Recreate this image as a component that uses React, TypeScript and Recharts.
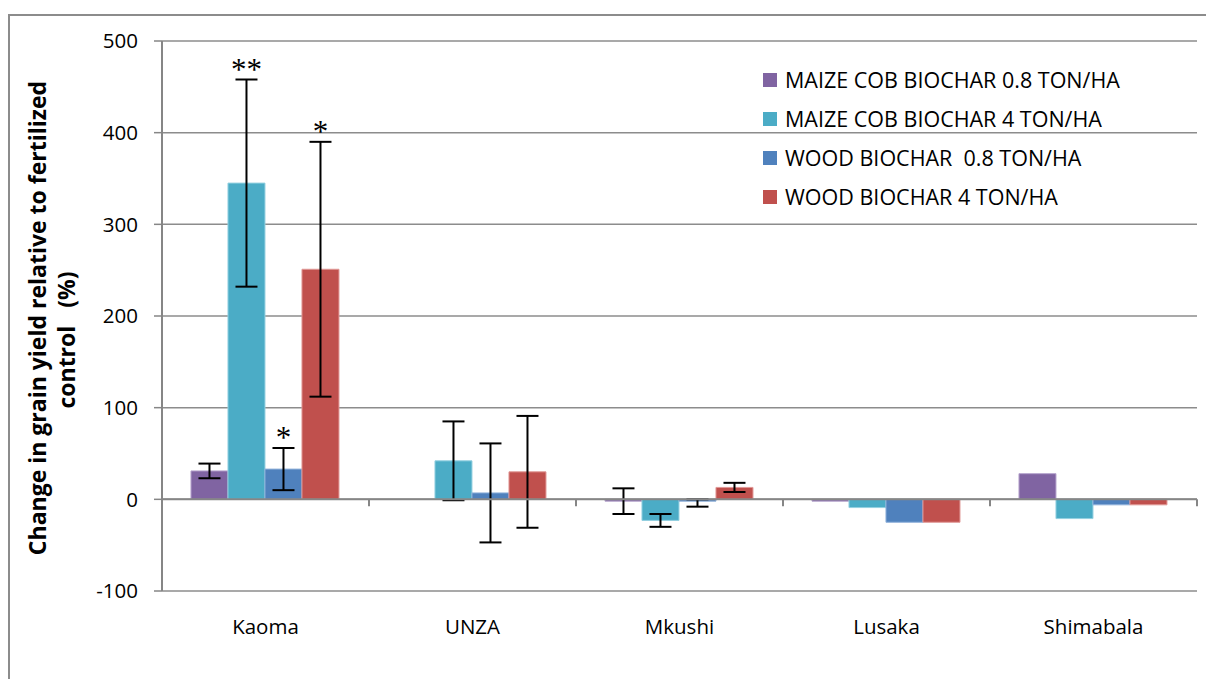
import React from 'react';
import { BarChart, Bar, XAxis, YAxis, CartesianGrid, ErrorBar, ReferenceLine, Legend, LabelList } from 'recharts';

const categories = ['Kaoma', 'UNZA', 'Mkushi', 'Lusaka', 'Shimabala'];
const maizeCob08 = [31, 0, -2, -2, 28];
const maizeCob08Err = [8, null, 14, null, null];
const maizeCob4 = [345, 42, -23, -9, -21];
const maizeCob4Err = [113, 43, 7, null, null];
const wood08 = [33, 7, -2, -25, -6];
const wood08Err: any[] = [23, 54, [6, 2], null, null];
const wood4 = [251, 30, 13, -25, -6];
const wood4Err = [139, 61, 5, null, null];
const maizeCob4Sig = ['**', '', '', '', ''];
const wood08Sig = ['*', '', '', '', ''];
const wood4Sig = ['*', '', '', '', ''];
const yTicks = [-100, 0, 100, 200, 300, 400, 500];

const seriesNames = ['MAIZE COB BIOCHAR 0.8 TON/HA', 'MAIZE COB BIOCHAR 4 TON/HA', 'WOOD BIOCHAR  0.8 TON/HA', 'WOOD BIOCHAR 4 TON/HA'];
const seriesColors = ['#8064A2', '#4BACC6', '#4F81BD', '#C0504D'];
const seriesStrokes = ['#b5a3cc', '#93d0e0', '#8fb0da', '#e09896'];

const data = categories.map((c, i) => ({
  name: c,
  s0: maizeCob08[i], e0: maizeCob08Err[i],
  s1: maizeCob4[i], e1: maizeCob4Err[i], g1: maizeCob4Sig[i],
  s2: wood08[i], e2: wood08Err[i], g2: wood08Sig[i],
  s3: wood4[i], e3: wood4Err[i], g3: wood4Sig[i],
}));

const FONT = '"Open Sans", Lato, sans-serif';

const makeSigLabel = (errKey: string, valKey: string) => (props: any) => {
  const { x, y, width, height, value, index } = props;
  if (!value) return null;
  const row: any = data[index];
  const v = row[valKey];
  const eRaw = row[errKey] || 0;
  const e = Array.isArray(eRaw) ? eRaw[1] : eRaw;
  const pxPerUnit = v ? Math.abs(height) / Math.abs(v) : 0;
  const top = Math.min(y, y + height) - e * pxPerUnit;
  return (
    <text x={x + width / 2} y={top} textAnchor="middle" fontFamily='"Liberation Serif", serif' fontSize={31} fill="#000">
      {value}
    </text>
  );
};

const ZeroLine = (p: any) => {
  const { x1, y1, x2, y2 } = p;
  const n = categories.length;
  const step = (x2 - x1) / n;
  return (
    <g>
      <line x1={x1} y1={y1} x2={x2} y2={y2} stroke="#868686" strokeWidth={2} />
      {categories.map((_, i) => (
        <line key={i} x1={x1 + step * (i + 1)} y1={y1} x2={x1 + step * (i + 1)} y2={y1 + 7} stroke="#868686" strokeWidth={2} />
      ))}
    </g>
  );
};

const LegendContent = () => (
  <div style={{ fontFamily: FONT, fontSize: 21.5, color: '#000' }}>
    {seriesNames.map((n, i) => (
      <div key={i} style={{ display: 'flex', alignItems: 'center', height: 39, whiteSpace: 'pre' }}>
        <span style={{ display: 'inline-block', width: 14, height: 14, background: seriesColors[i], marginRight: 8 }} />
        <span>{n}</span>
      </div>
    ))}
  </div>
);

const YTitle = () => (
  <g>
    <text transform="translate(46,318) rotate(-90)" textAnchor="middle" fontFamily={FONT} fontWeight="bold" fontSize={23} fill="#000">
      Change in grain yield relative to fertilized
    </text>
    <text transform="translate(75,340) rotate(-90)" textAnchor="middle" fontFamily={FONT} fontWeight="bold" fontSize={23} fill="#000" xmlSpace="preserve" style={{ whiteSpace: 'pre' }}>
      {'control   (%)'}
    </text>
  </g>
);

export default function App() {
  return (
    <div style={{ position: 'absolute', left: 0, top: 0, width: 1206, height: 679, background: '#fff', overflow: 'hidden' }}>
      <div style={{ position: 'absolute', left: 8, top: 14, width: 1300, height: 2, background: '#8c8c8c' }} />
      <div style={{ position: 'absolute', left: 8, top: 14, width: 2, height: 700, background: '#8c8c8c' }} />
      <div style={{ position: 'absolute', left: 0, top: 0 }}>
        <BarChart
          width={1206}
          height={679}
          data={data}
          margin={{ top: 41, right: 9, left: 0, bottom: 0 }}
          barCategoryGap="14%"
          barGap={0}
        >
          <CartesianGrid vertical={false} stroke="#8c8c8c" strokeWidth={1.5} />
          <XAxis
            dataKey="name"
            height={88}
            axisLine={false}
            tickLine={false}
            tickSize={0}
            tickMargin={28}
            tick={{ fontFamily: FONT, fontSize: 20.5, fill: '#000' }}
          />
          <YAxis
            width={162}
            domain={[-100, 500]}
            ticks={yTicks}
            interval={0}
            allowDataOverflow
            axisLine={{ stroke: '#868686', strokeWidth: 2 }}
            tickLine={{ stroke: '#868686', strokeWidth: 1.5 }}
            tickSize={8}
            tickMargin={16}
            tick={{ fontFamily: FONT, fontSize: 20.5, fill: '#000' }}
            label={{ content: () => <YTitle /> }}
          />
          <Legend
            layout="horizontal"
            verticalAlign="middle"
            align="center"
            content={() => <LegendContent />}
            wrapperStyle={{ left: 763, top: 60, width: 440, height: 160 }}
          />
          <Bar dataKey="s0" name={seriesNames[0]} fill={seriesColors[0]} stroke={seriesStrokes[0]} strokeWidth={1} isAnimationActive={false}>
            <ErrorBar dataKey="e0" width={11} stroke="#000" strokeWidth={2} direction="y" />
          </Bar>
          <Bar dataKey="s1" name={seriesNames[1]} fill={seriesColors[1]} stroke={seriesStrokes[1]} strokeWidth={1} isAnimationActive={false}>
            <ErrorBar dataKey="e1" width={11} stroke="#000" strokeWidth={2} direction="y" />
            <LabelList dataKey="g1" content={makeSigLabel('e1', 's1')} />
          </Bar>
          <Bar dataKey="s2" name={seriesNames[2]} fill={seriesColors[2]} stroke={seriesStrokes[2]} strokeWidth={1} isAnimationActive={false}>
            <ErrorBar dataKey="e2" width={11} stroke="#000" strokeWidth={2} direction="y" />
            <LabelList dataKey="g2" content={makeSigLabel('e2', 's2')} />
          </Bar>
          <Bar dataKey="s3" name={seriesNames[3]} fill={seriesColors[3]} stroke={seriesStrokes[3]} strokeWidth={1} isAnimationActive={false}>
            <ErrorBar dataKey="e3" width={11} stroke="#000" strokeWidth={2} direction="y" />
            <LabelList dataKey="g3" content={makeSigLabel('e3', 's3')} />
          </Bar>
          <ReferenceLine y={0} shape={(p: any) => <ZeroLine {...p} />} />
        </BarChart>
      </div>
    </div>
  );
}
